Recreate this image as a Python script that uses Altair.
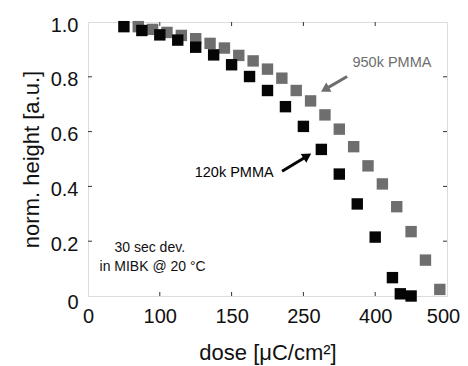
import altair as alt
import pandas as pd

# ---- data (x in axis-slot units: the axis labels are non-uniform) ----
x_tick_labels = ["0", "100", "150", "250", "400", "500"]
y_ticks = [0, 0.2, 0.4, 0.6, 0.8, 1.0]

dose_950k = [0.7, 0.9, 1.1, 1.3, 1.5, 1.7, 1.9, 2.1, 2.3, 2.5, 2.7, 2.9, 3.1,
             3.3, 3.5, 3.7, 3.9, 4.1, 4.3, 4.5, 4.7, 4.9]
height_950k = [0.983, 0.973, 0.962, 0.951, 0.939, 0.922, 0.905, 0.878, 0.858,
               0.828, 0.795, 0.750, 0.712, 0.661, 0.609, 0.545, 0.475, 0.409,
               0.326, 0.235, 0.131, 0.024]

dose_120k = [0.5, 0.75, 1.0, 1.25, 1.5, 1.75, 2.0, 2.25, 2.5, 2.75, 3.0, 3.25,
             3.5, 3.75, 4.0, 4.24, 4.35, 4.5]
height_120k = [0.983, 0.969, 0.953, 0.934, 0.908, 0.880, 0.844, 0.801, 0.750,
               0.691, 0.619, 0.535, 0.445, 0.336, 0.215, 0.067, 0.008, 0.0]

series_names = ["950k PMMA", "120k PMMA"]
series_colors = ["#6e6e6e", "#050505"]

FONT = "Liberation Sans"
W, H = 359, 274

df = pd.DataFrame({
    "dose": dose_950k + dose_120k,
    "height": height_950k + height_120k,
    "series": [series_names[0]] * len(dose_950k) + [series_names[1]] * len(dose_120k),
})

xscale = alt.Scale(domain=[0, 5], nice=False, zero=False)
yscale = alt.Scale(domain=[0, 1], nice=False, zero=False)

label_expr = "[" + ",".join("'%s'" % s for s in x_tick_labels) + "][datum.value]"

x_axis = alt.Axis(values=list(range(len(x_tick_labels))), labelExpr=label_expr,
                  title="dose [μC/cm²]", grid=False, domain=False, ticks=False,
                  tickSize=0, labelFontSize=20, titleFontSize=22, labelFlush=False,
                  labelOffset={"condition": {"test": "datum.value == 5", "value": -4},
                               "value": 0},
                  labelPadding=10, titlePadding=16, labelFont=FONT, titleFont=FONT,
                  labelColor="#111", titleColor="#111", titleFontWeight="normal")
y_axis = alt.Axis(values=y_ticks,
                  labelExpr="datum.value == 0 ? '0' : format(datum.value, '.1f')",
                  title="norm. height [a.u.]", grid=False, domain=False, ticks=False,
                  tickSize=0, labelFontSize=20, titleFontSize=22, labelFlush=False,
                  labelOffset={"condition": {"test": "datum.value == 0", "value": 6},
                               "value": 3},
                  labelPadding=10, titlePadding=7, labelFont=FONT, titleFont=FONT,
                  labelColor="#111", titleColor="#111", titleFontWeight="normal")

points = alt.Chart(df).mark_square(size=130, opacity=1, filled=True).encode(
    x=alt.X("dose:Q", scale=xscale, axis=x_axis),
    y=alt.Y("height:Q", scale=yscale, axis=y_axis),
    color=alt.Color("series:N", scale=alt.Scale(domain=series_names, range=series_colors),
                    legend=None),
)

# inward ticks on all four sides
xt = pd.DataFrame({"v": [1, 2, 3, 4]})
yt = pd.DataFrame({"v": [0.2, 0.4, 0.6, 0.8]})
tick_style = dict(color="#333", strokeWidth=1)
ticks_bottom = alt.Chart(xt).mark_rule(**tick_style).encode(
    x=alt.X("v:Q", scale=xscale), y=alt.value(H), y2=alt.value(H - 4))
ticks_top = alt.Chart(xt).mark_rule(**tick_style).encode(
    x=alt.X("v:Q", scale=xscale), y=alt.value(0), y2=alt.value(4))
ticks_left = alt.Chart(yt).mark_rule(**tick_style).encode(
    y=alt.Y("v:Q", scale=yscale), x=alt.value(0), x2=alt.value(4))
ticks_right = alt.Chart(yt).mark_rule(**tick_style).encode(
    y=alt.Y("v:Q", scale=yscale), x=alt.value(W), x2=alt.value(W - 4))

# annotations
lab = pd.DataFrame({
    "x": [3.683, 1.486],
    "y": [0.851, 0.448],
    "t": ["950k PMMA", "120k PMMA"],
    "c": series_colors,
})
labels = alt.Chart(lab).mark_text(align="left", baseline="middle", fontSize=14.5,
                                   font=FONT).encode(
    x=alt.X("x:Q", scale=xscale), y=alt.Y("y:Q", scale=yscale),
    text="t:N", color=alt.Color("c:N", scale=None))

note = pd.DataFrame({"x": [0.86, 0.90], "y": [0.176, 0.106],
                     "t": ["30 sec dev.", "in MIBK @ 20 °C"]})
notes = alt.Chart(note).mark_text(align="center", baseline="middle", fontSize=14,
                                  font=FONT, color="#111").encode(
    x=alt.X("x:Q", scale=xscale), y=alt.Y("y:Q", scale=yscale), text="t:N")

arr = pd.DataFrame({
    "x": [3.609, 2.703], "y": [0.801, 0.455],
    "x2": [3.300, 3.055], "y2": [0.754, 0.511],
    "ang": [240, 58],
    "c": series_colors,
})
shafts = alt.Chart(arr).mark_rule(strokeWidth=3).encode(
    x=alt.X("x:Q", scale=xscale), y=alt.Y("y:Q", scale=yscale),
    x2="x2:Q", y2="y2:Q", color=alt.Color("c:N", scale=None))
heads = alt.Chart(arr).mark_point(shape="triangle-up", filled=True, size=110,
                                  opacity=1).encode(
    x=alt.X("x2:Q", scale=xscale), y=alt.Y("y2:Q", scale=yscale),
    angle=alt.Angle("ang:Q", scale=None), color=alt.Color("c:N", scale=None))

chart = alt.layer(
    ticks_bottom, ticks_top, ticks_left, ticks_right,
    points, shafts, heads, labels, notes,
).properties(
    width=W, height=H,
    autosize=alt.AutoSizeParams(type="none"),
    padding={"left": 80, "top": 14, "right": 13, "bottom": 70},
).configure_view(
    stroke="#333", strokeWidth=1.2
).configure(background="white")

chart.save("out.html", embed_options={"renderer": "svg", "actions": False})
